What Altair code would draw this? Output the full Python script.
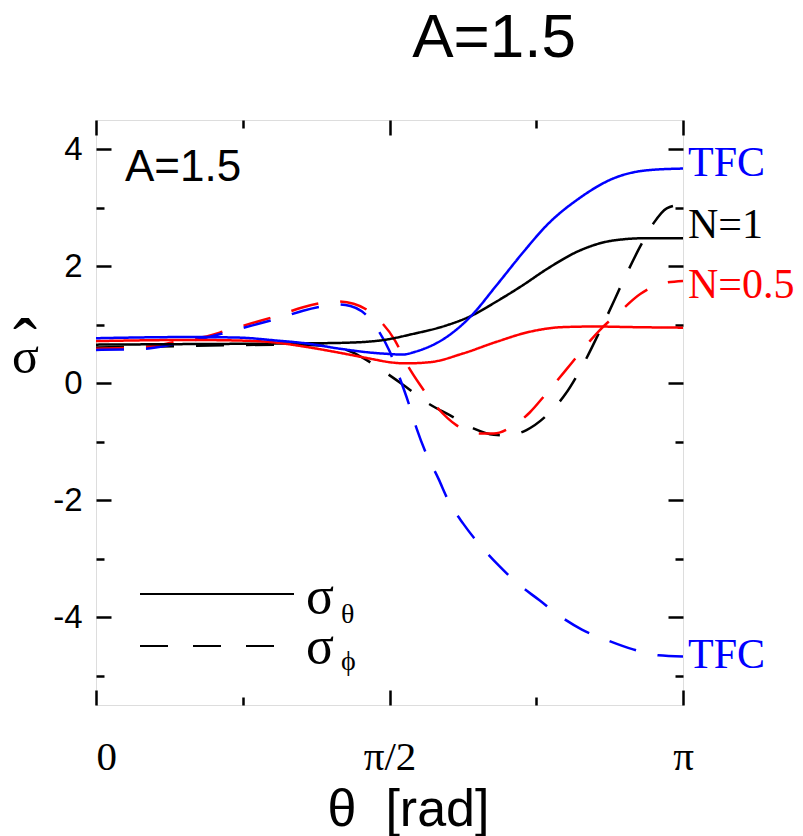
import altair as alt
import pandas as pd

# theta in degrees (0 .. 180 corresponds to 0 .. pi)
n1_th_x = [0, 30, 60, 75, 87, 97, 107.5, 115, 122.9, 131, 138.2, 148.4, 158.6, 168.9, 180]
n1_th_y = [0.66, 0.67, 0.68, 0.69, 0.73, 0.84, 0.99, 1.15, 1.40, 1.68, 1.95, 2.27, 2.44, 2.48, 2.48]

n05_th_x = [0, 28.8, 44, 54.4, 64.6, 74.8, 85, 90, 95, 102.4, 112.6, 122.9, 133, 143.3, 153.5, 163.7, 180]
n05_th_y = [0.72, 0.74, 0.73, 0.70, 0.62, 0.52, 0.41, 0.36, 0.34, 0.36, 0.51, 0.71, 0.88, 0.96, 0.97, 0.96, 0.95]

tfc_th_x = [0, 28.8, 44, 54.4, 64.6, 74.8, 85, 90, 94, 98, 107.5, 114.7, 122.9, 131, 138.2, 148.4, 158.6, 168.9, 180]
tfc_th_y = [0.77, 0.79, 0.78, 0.735, 0.68, 0.59, 0.52, 0.50, 0.49, 0.54, 0.79, 1.13, 1.68, 2.24, 2.70, 3.17, 3.50, 3.64, 3.67]

n1_ph_x = [0, 20, 40, 60, 72, 79, 82, 88.6, 95, 102, 108.6, 115.7, 122, 126, 132, 138.2, 144, 148.4, 155.6, 162.7, 166.8, 170.9, 175, 180]
n1_ph_y = [0.61, 0.63, 0.65, 0.66, 0.63, 0.52, 0.43, 0.19, -0.06, -0.35, -0.55, -0.77, -0.88, -0.89, -0.80, -0.55, -0.18, 0.22, 1.02, 1.87, 2.33, 2.73, 2.99, 3.06]

n05_ph_x = [0, 15, 24.7, 33, 40, 48, 56, 63.5, 70, 74, 79, 84, 86.5, 91.7, 95.2, 99.4, 104.4, 110.6, 118, 122, 127, 133, 138, 144, 149, 154.5, 160, 167, 174, 180]
n05_ph_y = [0.59, 0.62, 0.71, 0.79, 0.90, 1.03, 1.16, 1.30, 1.38, 1.40, 1.36, 1.22, 1.10, 0.73, 0.34, -0.03, -0.40, -0.72, -0.86, -0.86, -0.76, -0.50, -0.18, 0.22, 0.56, 0.91, 1.19, 1.53, 1.71, 1.75]

tfc_ph_x = [0, 15, 25, 33, 40, 48, 56, 63.5, 70, 74, 78, 81.5, 86, 90, 93, 95.8, 98.3, 101, 105, 108, 112.6, 117.8, 123.4, 129, 136, 142, 149, 156.6, 164.7, 172.4, 180]
tfc_ph_y = [0.57, 0.59, 0.68, 0.77, 0.87, 0.99, 1.11, 1.24, 1.32, 1.35, 1.32, 1.23, 0.95, 0.55, 0.11, -0.33, -0.77, -1.17, -1.63, -2.0, -2.4, -2.77, -3.11, -3.41, -3.71, -3.97, -4.21, -4.39, -4.55, -4.65, -4.67]

series_names = ["N=1", "N=0.5", "TFC"]
series_colors = ["#000000", "#ff0000", "#0000ff"]
components = ["theta", "phi"]

end_labels = ["TFC", "N=1", "N=0.5", "TFC"]
end_label_series = ["TFC", "N=1", "N=0.5", "TFC"]
end_label_y = [3.76, 2.70, 1.68, -4.65]

x_major = [0, 90, 180]
x_minor = [45, 135]
y_major = [-4, -2, 0, 2, 4]
y_minor = [-5, -3, -1, 1, 3]

rows = []
for name, comp, xs_, ys_ in [
    ("N=1", "phi", n1_ph_x, n1_ph_y),
    ("N=0.5", "phi", n05_ph_x, n05_ph_y),
    ("TFC", "phi", tfc_ph_x, tfc_ph_y),
    ("N=1", "theta", n1_th_x, n1_th_y),
    ("N=0.5", "theta", n05_th_x, n05_th_y),
    ("TFC", "theta", tfc_th_x, tfc_th_y),
]:
    for i, (a, b) in enumerate(zip(xs_, ys_)):
        rows.append({"theta": a, "value": b, "series": name, "comp": comp, "curve": name + comp, "i": i})
df = pd.DataFrame(rows)

W, H = 587, 585
xs = alt.Scale(domain=[0, 180], nice=False, zero=False)
ys = alt.Scale(domain=[-5.5, 4.5], nice=False, zero=False)

color = alt.Color("series:N", scale=alt.Scale(domain=series_names, range=series_colors), legend=None)
dash = alt.StrokeDash("comp:N", scale=alt.Scale(domain=components, range=[[1, 0], [28, 22]]), legend=None)

x_label_expr = "datum.value == 0 ? '0' : (datum.value == 90 ? 'π/2' : 'π')"
y_label_expr = "datum.value < 0 ? '-' + abs(datum.value) : '' + datum.value"

lines = alt.Chart(df).mark_line(strokeWidth=2.5, interpolate="monotone", clip=True).encode(
    x=alt.X("theta:Q", scale=xs, axis=alt.Axis(
        values=x_major, labelExpr=x_label_expr, ticks=False, tickSize=0, domain=False, grid=False,
        labelFont="Liberation Serif", labelFontSize=41, labelColor="black", labelPadding=32,
        labelAlign={"condition": {"test": "datum.value == 0", "value": "left"}, "value": "center"},
        title="θ\u00a0\u00a0[rad]", titleFont="Liberation Sans", titleFontSize=52, titleFontWeight="normal",
        titleColor="black", titleBaseline="alphabetic", titleY=120, titleX=312, titleAnchor="middle",
        titleAlign="center")),
    y=alt.Y("value:Q", scale=ys, axis=alt.Axis(
        values=y_major, labelExpr=y_label_expr, ticks=False, tickSize=0, domain=False, grid=False,
        labelFont="Liberation Sans", labelFontSize=33, labelColor="black", labelPadding=14,
        title="σ", titleFont="Liberation Serif", titleFontSize=50, titleFontWeight="normal",
        titleColor="black", titleAngle=0, titleX=-71, titleY=252, titleAlign="center",
        titleBaseline="alphabetic")),
    color=color,
    strokeDash=dash,
    detail="curve:N",
    order="i:Q",
)


def tick_layer(xvals, yvals, size, x_orient, y_orient):
    return alt.Chart(df).mark_point(opacity=0, size=0).encode(
        x=alt.X("theta:Q", scale=xs, axis=alt.Axis(
            values=xvals, orient=x_orient, offset=-H, labels=False, domain=False, grid=False,
            tickSize=size, tickWidth=2.5, tickColor="black", title=None)),
        y=alt.Y("value:Q", scale=ys, axis=alt.Axis(
            values=yvals, orient=y_orient, offset=-W, labels=False, domain=False, grid=False,
            tickSize=size, tickWidth=2.5, tickColor="black", title=None)),
    )


t1 = tick_layer(x_major, y_major, 15, "top", "right")
t2 = tick_layer(x_minor, y_minor, 8, "top", "right")
t3 = tick_layer(x_major, y_major, 15, "bottom", "left")
t4 = tick_layer(x_minor, y_minor, 8, "bottom", "left")

lab_df = pd.DataFrame({"label": end_labels, "series": end_label_series, "value": end_label_y,
                       "theta": [180] * len(end_labels)})
end_text = alt.Chart(lab_df).mark_text(
    align="left", baseline="middle", dx=5, font="Liberation Serif", fontSize=42
).encode(
    x=alt.X("theta:Q", scale=xs, axis=None),
    y=alt.Y("value:Q", scale=ys, axis=None),
    text="label:N",
    color=alt.Color("series:N", scale=alt.Scale(domain=series_names, range=series_colors), legend=None),
)

hat = alt.Chart(pd.DataFrame({"t": ["ˆ"]})).mark_text(
    align="center", baseline="alphabetic", font="Liberation Serif", fontSize=72, color="black"
).encode(x=alt.value(-71), y=alt.value(248), text="t:N")

main_title = alt.Chart(pd.DataFrame({"t": ["A=1.5"]})).mark_text(
    align="center", baseline="alphabetic", font="Liberation Sans", fontSize=62, color="black"
).encode(x=alt.value(398), y=alt.value(-63), text="t:N")

inner_title = alt.Chart(pd.DataFrame({"t": ["A=1.5"]})).mark_text(
    align="left", baseline="alphabetic", font="Liberation Sans", fontSize=44, color="black"
).encode(x=alt.value(29), y=alt.value(61), text="t:N")

leg_solid = alt.Chart(pd.DataFrame({"k": [0]})).mark_rule(color="black", strokeWidth=2).encode(
    x=alt.value(44), x2=alt.value(198), y=alt.value(474))
leg_dash = alt.Chart(pd.DataFrame({"k": [0]})).mark_rule(
    color="black", strokeWidth=2, strokeDash=[28, 25]).encode(
    x=alt.value(44), x2=alt.value(179), y=alt.value(526))

sig1 = alt.Chart(pd.DataFrame({"t": ["σ"]})).mark_text(
    align="left", baseline="alphabetic", font="Liberation Serif", fontSize=52, color="black"
).encode(x=alt.value(210), y=alt.value(493), text="t:N")
sub1 = alt.Chart(pd.DataFrame({"t": ["θ"]})).mark_text(
    align="left", baseline="alphabetic", font="Liberation Serif", fontSize=28, color="black"
).encode(x=alt.value(245), y=alt.value(503), text="t:N")
sig2 = alt.Chart(pd.DataFrame({"t": ["σ"]})).mark_text(
    align="left", baseline="alphabetic", font="Liberation Serif", fontSize=52, color="black"
).encode(x=alt.value(210), y=alt.value(543), text="t:N")
sub2 = alt.Chart(pd.DataFrame({"t": ["ϕ"]})).mark_text(
    align="left", baseline="alphabetic", font="Liberation Serif", fontSize=28, color="black"
).encode(x=alt.value(245), y=alt.value(550), text="t:N")

chart = alt.layer(
    lines, t1, t2, t3, t4, end_text, hat, main_title, inner_title,
    leg_solid, leg_dash, sig1, sub1, sig2, sub2
).resolve_axis(x="independent", y="independent").properties(
    width=W, height=H,
    autosize=alt.AutoSizeParams(type="none"),
    padding={"left": 96, "top": 120, "right": 120, "bottom": 131},
).configure_view(stroke="black", strokeWidth=3).configure(background="white")

chart.save("out.html", embed_options={"renderer": "svg", "actions": False})
